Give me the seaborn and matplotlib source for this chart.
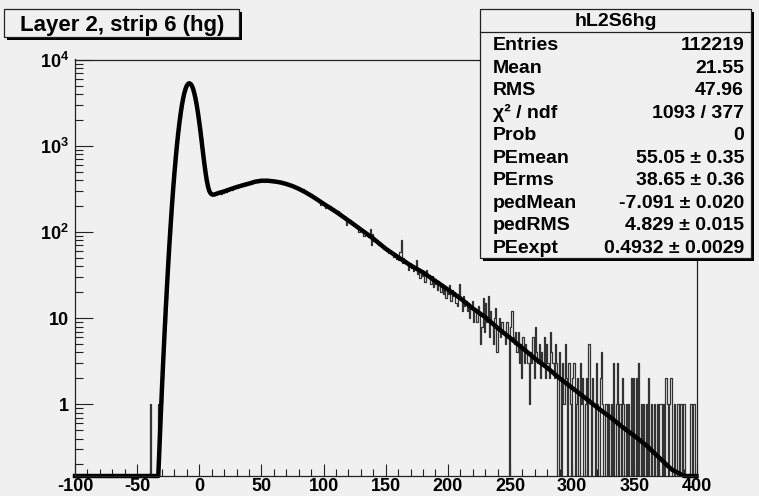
import numpy as np
import matplotlib
matplotlib.use('Agg')
import matplotlib.pyplot as plt
from matplotlib.patches import Rectangle
from matplotlib.lines import Line2D
from matplotlib.ticker import FixedLocator, FixedFormatter, MultipleLocator, LogLocator, NullFormatter
import seaborn as sns

# histogram: 1-unit bins, first bin starts at hist_start, empty below it
hist_start = -40
counts = [
    1, 0, 0, 0, 0, 0, 0, 1, 1, 1,
    2, 4, 9, 16, 33, 55, 98, 156, 259, 392,
    598, 849, 1203, 1610, 2120, 2665, 3270, 3846, 4405, 4860,
    5168, 5342, 5321, 5170, 4826, 4359, 3810, 3225, 2650, 2116,
    1652, 1264, 957, 724, 554, 438, 363, 315, 289, 276,
    270, 269, 271, 274, 278, 281, 290, 276, 296, 288,
    302, 294, 309, 298, 312, 318, 305, 326, 321, 337,
    329, 342, 331, 352, 339, 347, 361, 354, 368, 359,
    372, 365, 381, 369, 377, 392, 378, 396, 386, 401,
    390, 398, 384, 405, 391, 389, 398, 393, 380, 396,
    385, 391, 377, 388, 372, 380, 367, 374, 361, 369,
    355, 364, 350, 357, 343, 348, 335, 340, 326, 331,
    316, 322, 309, 313, 299, 296, 284, 287, 273, 276,
    262, 266, 254, 257, 244, 243, 230, 205, 222, 225,
    211, 190, 204, 207, 195, 199, 186, 188, 179, 181,
    170, 174, 163, 166, 156, 158, 147, 151, 122, 143,
    134, 137, 128, 130, 121, 124, 115, 118, 100, 111,
    104, 106, 90, 100, 93, 96, 88, 108, 70, 95,
    79, 82, 75, 77, 71, 74, 68, 70, 63, 67,
    60, 64, 57, 61, 55, 57, 52, 55, 49, 53,
    47, 58, 80, 44, 50, 47, 43, 45, 36, 44,
    38, 41, 35, 39, 47, 33, 38, 29, 35, 31,
    34, 26, 36, 30, 31, 29, 25, 31, 23, 28,
    25, 21, 27, 24, 20, 25, 19, 23, 17, 22,
    19, 24, 16, 21, 18, 20, 15, 14, 19, 25,
    17, 12, 18, 14, 16, 12, 15, 10, 14, 16,
    9, 13, 12, 9, 14, 11, 5, 8, 17, 7,
    15, 9, 18, 6, 12, 9, 5, 10, 13, 4,
    8, 10, 6, 9, 7, 7, 5, 9, 6, 0,
    8, 12, 6, 5, 7, 4, 7, 3, 5, 2,
    6, 3, 5, 4, 3, 1, 4, 3, 6, 2,
    8, 4, 3, 5, 2, 4, 3, 6, 2, 5,
    3, 2, 7, 4, 3, 2, 5, 3, 0, 4,
    2, 0, 3, 1, 5, 2, 0, 3, 1, 0,
    2, 3, 0, 1, 2, 0, 3, 1, 2, 0,
    1, 2, 0, 5, 1, 0, 2, 1, 0, 3,
    1, 0, 2, 4, 1, 0, 1, 1, 0, 1,
    0, 1, 0, 3, 0, 1, 3, 0, 1, 0,
    2, 1, 0, 1, 0, 1, 0, 2, 0, 2,
    0, 2, 0, 3, 0, 1, 0, 1, 0, 1,
    0, 2, 0, 1, 0, 0, 1, 0, 1, 0,
    1, 1, 0, 1, 0, 2, 1, 0, 1, 2,
    0, 0, 1, 0, 1, 1, 0, 1, 0, 1,
    1, 0, 0, 0, 0, 1, 0, 1, 1, 0,
]

# fitted curve
fit_x = [-100, -33, -32, -31, -30, -29, -28, -27, -26, -25, -24, -23, -22, -21,
         -20, -19, -18, -17, -16, -15, -14, -13, -12, -11, -10, -9, -8, -7, -6,
         -5, -4, -3, -2, -1, 0, 1, 2, 3, 4, 5, 6, 7, 8, 9, 10, 11, 12, 13, 14,
         15, 20, 25, 30, 35, 40, 45, 50, 55, 60, 65, 70, 75, 80, 85, 90, 95,
         100, 110, 120, 130, 140, 150, 160, 170, 180, 190, 200, 210, 220, 230,
         240, 250, 260, 270, 280, 290, 300, 310, 320, 330, 340, 350, 360, 370,
         380, 390, 400]
fit_y = [0.1, 0.147, 0.33, 0.74, 1.58, 3.27, 6.5, 12.6, 23.4, 42.3, 74, 124, 203, 319,
         485, 714, 1017, 1398, 1855, 2387, 2965, 3561, 4134, 4640, 5033, 5280, 5350, 5250, 5020,
         4608, 4090, 3523, 2940, 2379, 1876, 1448, 1100, 832, 635, 493, 399, 338, 301, 283, 274, 272, 273, 276, 279,
         283, 297, 315, 333, 350, 366, 385, 395, 395, 388, 378, 362, 342, 318, 292, 265, 238,
         213, 172, 136, 107, 84, 64, 51, 41, 34, 27, 21.5, 17, 13, 10.3,
         7.7, 5.9, 4.5, 3.4, 2.65, 2.0, 1.55, 1.2, 0.92, 0.72, 0.55, 0.43, 0.33, 0.24,
         0.175, 0.13, 0.1]

hist_name = 'hL2S6hg'
title = 'Layer 2, strip 6 (hg)'
stat_names = ['Entries', 'Mean', 'RMS', 'χ² / ndf', 'Prob', 'PEmean', 'PErms',
              'pedMean', 'pedRMS', 'PEexpt']
stat_values = ['112219', '21.55', '47.96', '1093 / 377', '0', '55.05 ± 0.35',
               '38.65 ± 0.36', '-7.091 ± 0.020', '4.829 ± 0.015', '0.4932 ± 0.0029']

x_ticks = [-100, -50, 0, 50, 100, 150, 200, 250, 300, 350, 400]
y_ticks = [1, 10, 100, 1000, 10000]
y_labels = ['1', '10', '$10^{2}$', '$10^{3}$', '$10^{4}$']

plt.rcParams['font.family'] = ['Liberation Sans', 'DejaVu Sans']
plt.rcParams['font.weight'] = 'bold'
plt.rcParams['mathtext.fontset'] = 'custom'
plt.rcParams['mathtext.rm'] = 'Liberation Sans:bold'
plt.rcParams['mathtext.default'] = 'rm'
plt.rcParams['axes.unicode_minus'] = False

W, H = 759, 496
bg = '#f0f0f0'
y_min, y_max = 0.147, 1.01e4

fig = plt.figure(figsize=(W / 100, H / 100), dpi=100, facecolor=bg)
ax = fig.add_axes([75 / W, 1 - 476 / H, (696.5 - 75) / W, (476 - 59.5) / H], facecolor=bg)

edges = np.arange(-100, 401)
full = np.concatenate([np.zeros(hist_start + 100), counts])
step_y = np.append(full, full[-1])
step_y = np.where(step_y > 0, step_y, 1e-3)

sns.lineplot(x=edges, y=step_y, drawstyle='steps-post', estimator=None,
             color='#333333', lw=0.9, ax=ax)
sns.lineplot(x=fit_x, y=np.maximum(fit_y, y_min), estimator=None,
             color='black', lw=3.2, ax=ax, clip_on=False)

ax.set_yscale('log')
ax.set_xlim(-100, 400)
ax.set_ylim(y_min, y_max)
ax.set_xlabel('')
ax.set_ylabel('')

ax.xaxis.set_major_locator(FixedLocator(x_ticks))
ax.xaxis.set_minor_locator(MultipleLocator(10))
ax.yaxis.set_major_locator(FixedLocator(y_ticks))
ax.yaxis.set_major_formatter(FixedFormatter(y_labels))
ax.yaxis.set_minor_locator(LogLocator(base=10, subs=np.arange(2, 10)))
ax.yaxis.set_minor_formatter(NullFormatter())

ax.tick_params(which='both', direction='in', top=False, right=False, width=0.8,
               labelsize=13, color='#222222')
ax.tick_params(axis='x', which='major', length=8.6, pad=1.2)
ax.tick_params(axis='x', which='minor', length=4.8)
ax.tick_params(axis='y', which='major', length=13, pad=4.5)
ax.tick_params(axis='y', which='minor', length=6)
for s in ax.spines.values():
    s.set_linewidth(0.9)
    s.set_color('#222222')


def box(x0, y0, x1, y1):
    # shadow then frame, pixel coords from the top-left
    fig.add_artist(Rectangle((x0 / W + 3 / W, 1 - (y1 + 3) / H), (x1 - x0) / W, (y1 - y0) / H,
                             transform=fig.transFigure, facecolor='black', edgecolor='none', zorder=5))
    fig.add_artist(Rectangle((x0 / W, 1 - y1 / H), (x1 - x0) / W, (y1 - y0) / H,
                             transform=fig.transFigure, facecolor=bg, edgecolor='#222222',
                             lw=0.9, zorder=6))


# title box
box(4, 9, 239, 37)
fig.text(122 / W, 1 - 31.5 / H, title, ha='center', va='baseline', fontsize=16,
         fontweight='bold', zorder=7)

# stats box
box(480, 9, 751, 258)
fig.add_artist(Line2D([480 / W, 751 / W], [1 - 32 / H, 1 - 32 / H], transform=fig.transFigure,
                      color='#222222', lw=0.9, zorder=7))
fig.text(616 / W, 1 - 25.5 / H, hist_name, ha='center', va='baseline', fontsize=14,
         fontweight='bold', zorder=7)
for i, (name, val) in enumerate(zip(stat_names, stat_values)):
    yb = 43.5 + 22.45 * i + 7
    fig.text(493 / W, 1 - yb / H, name, ha='left', va='baseline', fontsize=14,
             fontweight='bold', zorder=7)
    fig.text(744 / W, 1 - yb / H, val, ha='right', va='baseline', fontsize=14,
             fontweight='bold', zorder=7)

fig.savefig('out.png', dpi=100, facecolor=bg)
